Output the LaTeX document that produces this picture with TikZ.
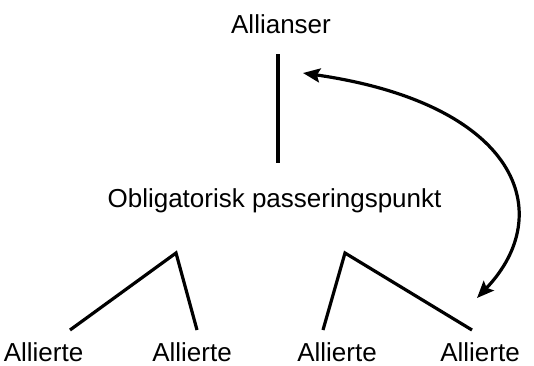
\documentclass[tikz,border=0pt]{standalone}
\usepackage{fontspec}
\setmainfont{Liberation Sans}
\usetikzlibrary{arrows.meta}
\begin{document}
\begin{tikzpicture}[x=1pt,y=-1pt,
  lbl/.style={anchor=base,inner sep=0pt,font=\fontsize{26}{30}\selectfont},
  ln/.style={line width=3.2pt},
  arr/.style={line width=3.2pt,{Stealth[length=17pt,width=14pt,inset=3pt]}-{Stealth[length=17pt,width=14pt,inset=3pt]}}]
\useasboundingbox (0,0) rectangle (534,365);
\node[lbl] (al) at (281,33) {Allianser};
\node[lbl] (op) at (274.5,207) {Obligatorisk passeringspunkt};
\node[lbl] (a1) at (43.5,361) {Allierte};
\node[lbl] (a2) at (192,361) {Allierte};
\node[lbl] (a3) at (337,361) {Allierte};
\node[lbl] (a4) at (480,361) {Allierte};
\coordinate (vt) at (278,54);
\coordinate (vb) at (278,163);
\coordinate (l1) at (70,330);
\coordinate (lp) at (176,253);
\coordinate (l2) at (197,330);
\coordinate (r1) at (323,330);
\coordinate (rp) at (345,253);
\coordinate (r2) at (472,330);
\coordinate (ta) at (303,73);
\coordinate (tb) at (477,298);
\draw[ln] (vt) -- (vb);
\draw[ln,line join=miter] (l1) -- (lp) -- (l2);
\draw[ln,line join=miter] (r1) -- (rp) -- (r2);
\draw[arr] (ta) .. controls (518,104) and (558,213) .. (tb);
\end{tikzpicture}
\end{document}
